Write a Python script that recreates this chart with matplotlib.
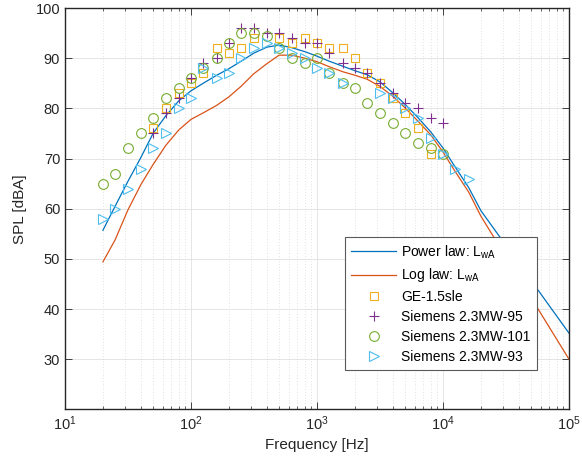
import matplotlib
matplotlib.use('Agg')
import matplotlib.pyplot as plt
import numpy as np

plt.rcParams['font.family'] = ['Liberation Sans', 'DejaVu Sans']
plt.rcParams['mathtext.fontset'] = 'custom'
plt.rcParams['mathtext.rm'] = 'Liberation Sans'
plt.rcParams['mathtext.it'] = 'Liberation Sans:italic'

nan = np.nan

# Third-octave band centre frequencies [Hz]
freq = [20, 25, 31.5, 40, 50, 63, 80, 100, 125, 160, 200, 250, 315, 400, 500,
        630, 800, 1000, 1250, 1600, 2000, 2500, 3150, 4000, 5000, 6300, 8000,
        10000, 12500, 16000]

# Measured turbine spectra [dBA]
ge_15sle = [nan, nan, nan, nan, 76, 80, 83, 85, 87, 92, 91, 92, 94, nan, 94,
            93, 94, 93, 92, 92, 90, 87, 85, 82, 79, 76, 71, nan, nan, nan]
siemens_95 = [nan, nan, nan, nan, 75, 79, 82, 86, 89, 90, 93, 96, 96, 95, 95,
              94, 93, 93, 91, 89, 88, 87, 85, 83, 81, 80, 78, 77, nan, nan]
siemens_101 = [65, 67, 72, 75, 78, 82, 84, 86, 88, 90, 93, 95, 95, 94.5, 92,
               90, 89, 90, 87, 85, 84, 81, 79, 77, 75, 73, 72, 71, nan, nan]
siemens_93 = [58, 60, 64, 68, 72, 75, 80, 82, 88, 86, 87, 90, 92, 93, 92,
              91, 90, 88, 87, 85, nan, nan, 83, 82, 80, 78, 74, 71, 68, 66]

# Model curves, same bands extended to 100 kHz
model_freq = freq + [20000, 100000]
power_law = [55.7, 60.5, 65.4, 70.2, 75.0, 78.5, 81.5, 83.5, 85.0, 86.6, 87.9,
             89.4, 91.0, 92.2, 92.6, 92.1, 91.3, 90.4, 89.4, 88.4, 87.5, 86.7,
             85.3, 83.1, 80.8, 78.2, 75.3, 72.1, 68.3, 64.2, 59.6, 35.2]
log_law = [49.4, 53.8, 59.7, 64.8, 68.8, 72.6, 75.7, 77.8, 79.1, 80.6, 82.3,
           84.4, 86.9, 88.9, 90.6, 90.6, 90.0, 89.3, 88.3, 87.3, 86.6, 85.8,
           84.4, 82.4, 80.1, 77.5, 74.7, 71.3, 67.4, 63.3, 58.5, 30.0]

fig = plt.figure(figsize=(5.82, 4.57), dpi=100)
ax = fig.add_axes([65/582, 1 - 409.4/457, 504/582, 401.4/457])

ax.plot(model_freq, power_law, color='#0072BD', lw=0.9,
        label=r'Power law: $\mathregular{L_{wA}}$')
ax.plot(model_freq, log_law, color='#D95319', lw=0.9,
        label=r'Log law: $\mathregular{L_{wA}}$')
ax.plot(freq, ge_15sle, 's', mfc='none', mec='#EDB120', ms=5.5, mew=0.8,
        label='GE-1.5sle')
ax.plot(freq, siemens_95, '+', color='#7E2F8E', ms=7, mew=0.8,
        label='Siemens 2.3MW-95')
ax.plot(freq, siemens_101, 'o', mfc='none', mec='#77AC30', ms=7, mew=0.8,
        label='Siemens 2.3MW-101')
ax.plot(freq, siemens_93, '>', mfc='none', mec='#4DBEEE', ms=7.5, mew=0.8,
        label='Siemens 2.3MW-93')

ax.set_xscale('log')
ax.set_xlim(10, 1e5)
ax.set_ylim(20, 100)
ax.set_yticks(np.arange(30, 101, 10))

# MATLAB-like grid and box
ax.grid(which='major', color='#e0e0e0', lw=0.6)
ax.grid(which='minor', axis='x', color='#c8c8c8', lw=0.5, ls=(0, (1, 3)))
ax.set_axisbelow(True)
ax.tick_params(which='both', direction='in', top=True, right=True,
               labelsize=10.5, colors='#262626')
ax.tick_params(which='major', length=5, width=0.6)
ax.tick_params(which='minor', length=2.5, width=0.5)
for s in ax.spines.values():
    s.set_color('#262626')
    s.set_linewidth(1.0)

ax.set_xlabel('Frequency [Hz]', fontsize=11, color='#262626')
ax.set_ylabel('SPL [dBA]', fontsize=11, color='#262626', labelpad=6)

leg = ax.legend(loc='upper right', bbox_to_anchor=(0.9365, 0.4295),
                borderaxespad=0, fancybox=False, framealpha=1,
                edgecolor='#5a5a5a', fontsize=10, handlelength=3.2,
                handletextpad=0.4, labelspacing=0.42, borderpad=0.45)
leg.get_frame().set_linewidth(0.8)

plt.savefig('out.png', dpi=100)
